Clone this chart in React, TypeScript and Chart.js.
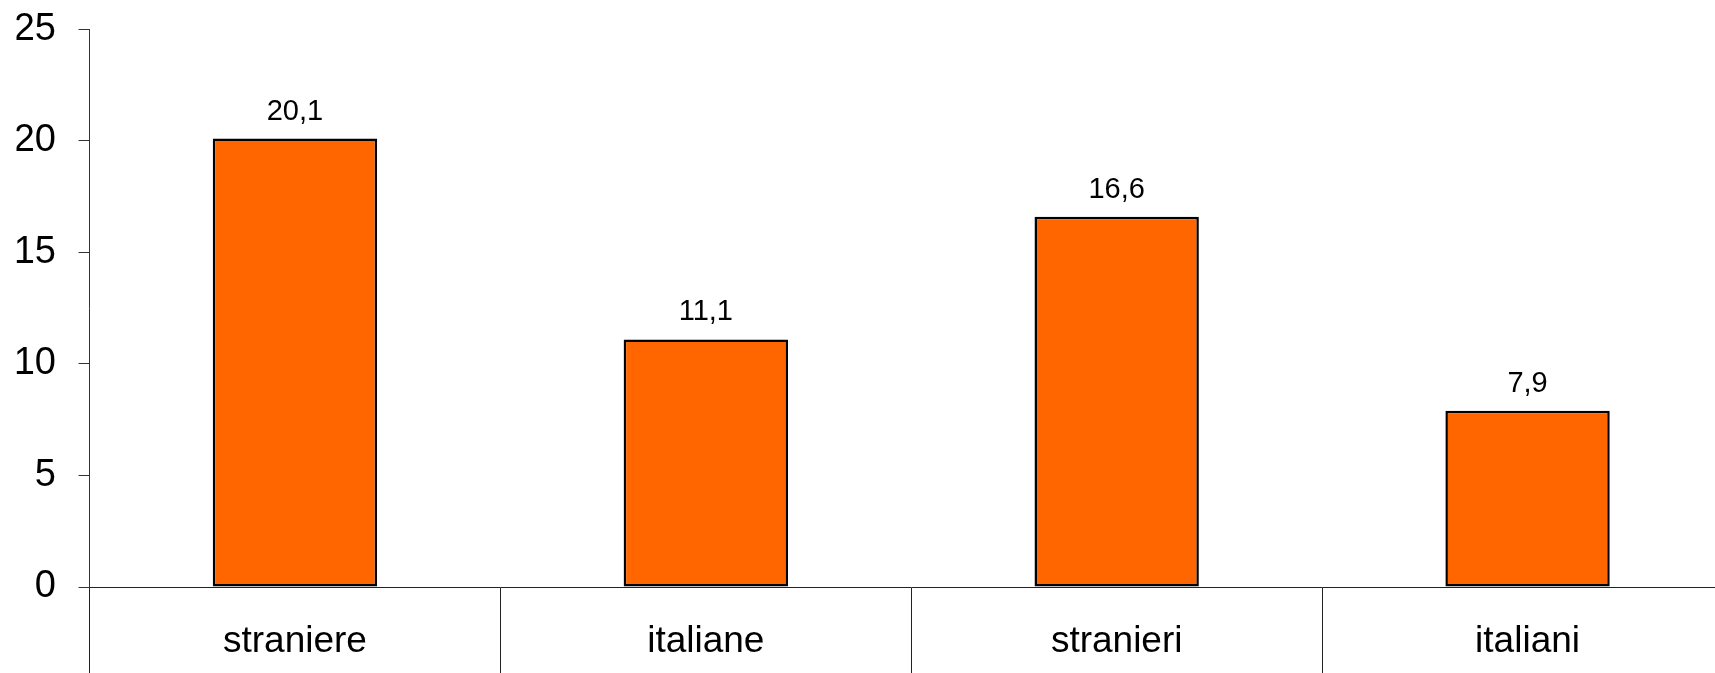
import React, { useEffect, useRef } from "react";
import { Chart, registerables } from "chart.js";

Chart.register(...registerables);

const categories = ["straniere", "italiane", "stranieri", "italiani"];
const values = [20.1, 11.1, 16.6, 7.9];
const yTicks = [0, 5, 10, 15, 20, 25];

const FONT = "Arial, 'Liberation Sans', sans-serif";

const valueLabels = {
  id: "valueLabels",
  afterDatasetsDraw(chart: any) {
    const ctx = chart.ctx;
    const meta = chart.getDatasetMeta(0);
    ctx.save();
    ctx.font = `29px ${FONT}`;
    ctx.fillStyle = "#000";
    ctx.textAlign = "center";
    ctx.textBaseline = "alphabetic";
    meta.data.forEach((bar: any, i: number) => {
      const txt = values[i].toFixed(1).replace(".", ",");
      ctx.fillText(txt, bar.x, bar.y - 19);
    });
    ctx.restore();
  },
};

export default function App() {
  const ref = useRef<HTMLCanvasElement>(null);
  useEffect(() => {
    if (!ref.current) return;
    const chart = new Chart(ref.current, {
      type: "bar",
      data: {
        labels: categories,
        datasets: [
          {
            data: values,
            backgroundColor: "#FF6600",
            borderColor: "#000",
            borderWidth: 2.5,
            borderSkipped: false,
            categoryPercentage: 1,
            barPercentage: 0.4,
          },
        ],
      },
      options: {
        responsive: false,
        animation: false,
        devicePixelRatio: 1,
        layout: { padding: { left: 16.5, top: 29.3, right: 0, bottom: 0 } },
        plugins: { legend: { display: false }, tooltip: { enabled: false } },
        scales: {
          x: {
            offset: true,
            afterFit: (s: any) => {
              s.height = 113;
              s.paddingLeft = 0;
              s.paddingRight = 0;
            },
            border: { display: true, color: "#222", width: 1 },
            grid: {
              offset: true,
              drawOnChartArea: false,
              drawTicks: true,
              tickLength: 100,
              color: "#222",
              lineWidth: 1,
            },
            ticks: {
              color: "#000",
              font: { family: FONT, size: 37 },
              padding: -67,
              maxRotation: 0,
              autoSkip: false,
            },
          },
          y: {
            min: 0,
            max: 25,
            afterFit: (s: any) => {
              s.width = 73;
              s.paddingTop = 0;
              s.paddingBottom = 0;
            },
            afterBuildTicks: (s: any) => {
              s.ticks = yTicks.map((v) => ({ value: v }));
            },
            border: { display: true, color: "#333", width: 1 },
            grid: {
              drawOnChartArea: false,
              drawTicks: true,
              tickLength: 11,
              color: "#333",
              lineWidth: 1,
            },
            ticks: {
              color: "#000",
              font: { family: FONT, size: 38 },
              padding: 22.5,
              stepSize: 5,
            },
          },
        },
      },
      plugins: [valueLabels],
    });
    return () => chart.destroy();
  }, []);
  return (
    <div
      style={{
        position: "fixed",
        left: 0,
        top: 0,
        width: 1715,
        height: 673,
        overflow: "hidden",
        background: "#fff",
      }}
    >
      <canvas ref={ref} width={1733} height={700} style={{ display: "block" }} />
    </div>
  );
}
